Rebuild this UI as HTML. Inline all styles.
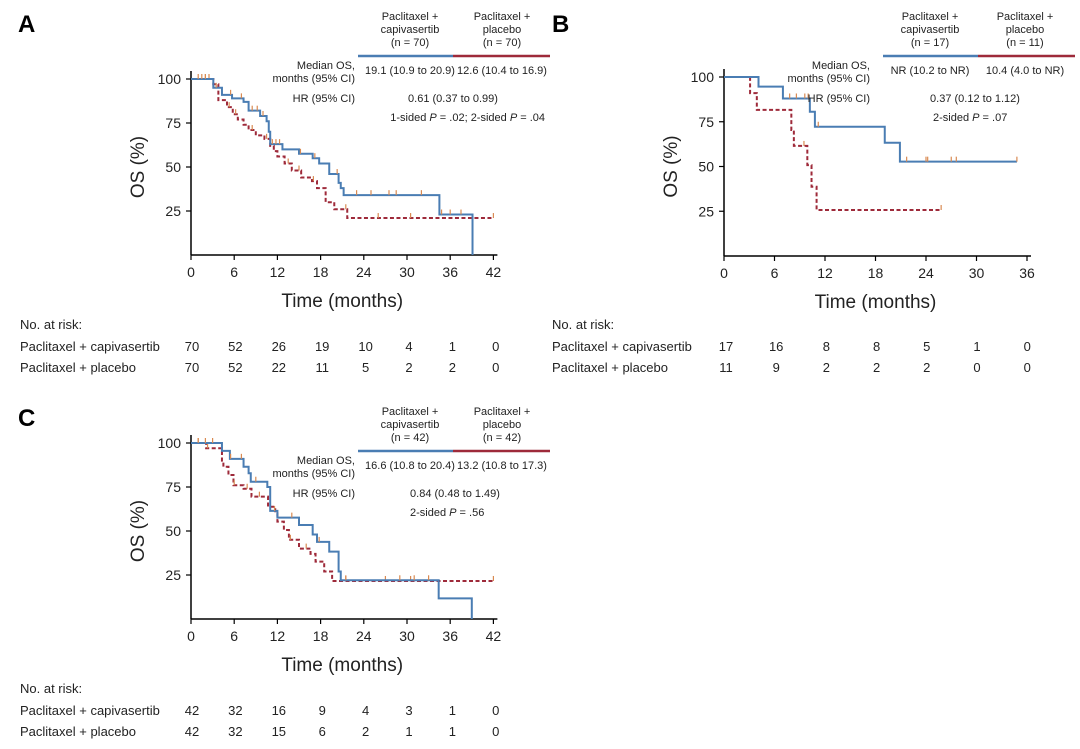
<!DOCTYPE html>
<html><head><meta charset="utf-8"><style>
body{margin:0;background:#fff;}
svg{display:block;font-family:"Liberation Sans",sans-serif;}
</style></head><body>
<svg id="fig" width="1080" height="749" viewBox="0 0 1080 749" xmlns="http://www.w3.org/2000/svg"></svg>
<script>
// ---- Data (time in months, OS %) ----
const ticksX42 = [0,6,12,18,24,30,36,42];
const ticksX36 = [0,6,12,18,24,30,36];
const ticksY = [25,50,75,100];

const aCapT = [0,3.1,4.3,5.7,7.3,8.0,9.6,10.5,10.8,11.0,12.7,15.0,16.9,17.8,19.2,20.5,20.8,21.2,34.5,39.1];
const aCapV = [100,95,91,89,87,82,79,76,70,63,60,57.5,55,52,46,41,38,34,23,0];
const aCapEnd = 39.1;
const aCapCens = [1,1.5,2,3.5,5.5,7,8.5,9.2,10,11.3,11.8,12.3,15.2,17.2,20.3,23,25,27.5,28.5,32,34.8,36,37.5];
const aPlaT = [0,3.1,3.8,5.0,5.8,6.5,7.3,8.0,9.0,10.2,11.0,11.5,12.0,13.0,14.0,15.3,16.8,17.5,18.7,19.9,21.7];
const aPlaV = [100,97,88,84,80,77,74,71,68,66,62,59,56,52,48,44,42,38,30,26,21];
const aPlaEnd = 42;
const aPlaCens = [2,2.5,5.3,6.2,8.5,10.5,13.5,15,17,21.5,26,30.5,42];
const aRiskCap = [70,52,26,19,10,4,1,0];
const aRiskPla = [70,52,22,11,5,2,2,0];

const bCapT = [0,4.1,7.0,10.2,10.8,19.1,20.9];
const bCapV = [100,94.6,88,80.6,72.2,63.3,52.7];
const bCapEnd = 34.8;
const bCapCens = [7.8,8.6,9.6,10.0,11.2,21.7,24.0,24.2,27.0,27.6,34.8];
const bPlaT = [0,3.1,3.9,8.0,8.3,9.9,10.4,11.0];
const bPlaV = [100,91,81.6,70.4,61.5,50.8,38.7,25.7];
const bPlaEnd = 25.9;
const bPlaCens = [9.5,25.8];
const bRiskCap = [17,16,8,8,5,1,0];
const bRiskPla = [11,9,2,2,2,0,0];

const cCapT = [0,4.3,5.4,7.3,8.0,8.3,10.6,11.0,12.0,15.0,16.9,17.5,19.2,20.5,20.8,34.4,39.0];
const cCapV = [100,95.5,91,86.5,82.8,78,75,61.4,57.6,53.4,48,43.8,38.3,27,22,11.7,0];
const cCapEnd = 39.0;
const cCapCens = [1,2,3,5.5,7,9,11.6,14,17.8,21.5,29,31,33];
const cPlaT = [0,2.1,4.3,4.5,5.2,5.9,7.3,8.4,10.7,11.7,12.0,12.9,13.6,15.0,16.6,17.3,18.5,19.6];
const cPlaV = [100,97,90,86.5,81.8,76,74,69.5,63.8,60,55.3,50.6,45,40,37,32.6,27,21.6];
const cPlaEnd = 42;
const cPlaCens = [1,2.3,6,7.8,9.5,11,13.8,16,21.5,27,30.5,42];
const cRiskCap = [42,32,16,9,4,3,1,0];
const cRiskPla = [42,32,15,6,2,1,1,0];

const BLUE = "#4a7db3", RED = "#9e2a3a", CENS = "#d98a52";
const svg = document.getElementById('fig');
const NS = "http://www.w3.org/2000/svg";
function el(tag, attrs, parent){ const e=document.createElementNS(NS,tag); for(const k in attrs) e.setAttribute(k,attrs[k]); (parent||svg).appendChild(e); return e; }
function txt(x,y,s,size,anchor,parent,extra){ const t=el('text',Object.assign({x:x,y:y,'font-size':size,'text-anchor':anchor||'start',fill:'#222'},extra||{}),parent); t.innerHTML=s; return t; }

function stepAt(T,V,t){ let v=V[0]; for(let i=0;i<T.length;i++){ if(T[i]<=t) v=V[i]; } return v; }

function panel(p){
  const g = el('g',{});
  
  
  const sx = t => p.x0 + t*(p.x1-p.x0)/p.xmax;
  const sy = v => p.y0 - v*(p.y0-p.y100)/100;
  // panel letter
  const L = txt(p.lx,p.ly,p.id.toUpperCase(),24,'start',g,{'font-weight':'bold',fill:'#000'});
  
  
  // axes
  el('line',{x1:p.x0,y1:p.y100-8,x2:p.x0,y2:p.y0,stroke:'#000','stroke-width':1.5},g);
  el('line',{x1:p.x0,y1:p.y0,x2:sx(p.xmax)+4,y2:p.y0,stroke:'#000','stroke-width':1.5},g);
  p.ticksX.forEach(t=>{
    el('line',{x1:sx(t),y1:p.y0,x2:sx(t),y2:p.y0+5,stroke:'#000','stroke-width':1.2},g);
    const tl = txt(sx(t),p.y0+22,t,14,'middle',g);
    
    
  });
  ticksY.forEach(v=>{
    el('line',{x1:p.x0-5,y1:sy(v),x2:p.x0,y2:sy(v),stroke:'#000','stroke-width':1.2},g);
    const tl = txt(p.x0-10,sy(v)+5,v,14,'end',g);
    
    
  });
  const xt = txt((p.x0+sx(p.xmax))/2,p.y0+52,'Time (months)',19,'middle',g);
  
  
  const yt = txt(0,0,'OS (%)',19,'middle',g,{transform:`translate(${p.x0-47},${(p.y0+p.y100)/2}) rotate(-90)`});
  
  
  // curves
  function curve(T,V,end,cens,color,dash,name){
    let d=`M${sx(T[0])},${sy(V[0])}`;
    for(let i=1;i<T.length;i++){ d+=` H${sx(T[i])} V${sy(V[i])}`; }
    if(end>T[T.length-1]) d+=` H${sx(end)}`;
    const path = el('path',{d:d,fill:'none',stroke:color,'stroke-width':2,'stroke-dasharray':dash||'none'},g);
    
    
    cens.forEach(t=>{
      const y=sy(stepAt(T,V,t));
      const c = el('line',{x1:sx(t),y1:y,x2:sx(t),y2:y-5,stroke:CENS,'stroke-width':1.2},g);
      
      
    });
  }
  curve(p.plaT,p.plaV,p.plaEnd,p.plaCens,RED,'4,2.5','placebo');
  curve(p.capT,p.capV,p.capEnd,p.capCens,BLUE,null,'capivasertib');
  // header
  const h=p.hdr;
  [['Paclitaxel +','capivasertib',p.nCap,h.c1],['Paclitaxel +','placebo',p.nPla,h.c2]].forEach((a,i)=>{
    const hg = el('g',{},g);
    
    
    txt(a[3],h.y,a[0],11,'middle',hg); txt(a[3],h.y+13,a[1],11,'middle',hg); txt(a[3],h.y+26,'(n = '+a[2]+')',11,'middle',hg);
  });
  const lb = el('line',{x1:h.l0,y1:h.y+36,x2:h.lm,y2:h.y+36,stroke:BLUE,'stroke-width':2.5},g);
   
  const lr = el('line',{x1:h.lm,y1:h.y+36,x2:h.l1,y2:h.y+36,stroke:RED,'stroke-width':2.5},g);
   
  txt(h.lab,h.y+49,'Median OS,',11,'end',g); txt(h.lab,h.y+62,'months (95% CI)',11,'end',g);
  txt(h.c1,h.y+54,p.medCap,11,'middle',g); txt(h.c2,h.y+54,p.medPla,11,'middle',g);
  txt(h.lab,h.y+82,'HR (95% CI)',11,'end',g);
  txt(h.hrx,h.y+82,p.hr,11,'middle',g);
  txt(h.px,h.y+101,p.pval,11,p.panchor,g);
  // risk table
  const rg = el('g',{},g);
   
  txt(p.rx,p.ry,'No. at risk:',13,'start',rg);
  txt(p.rx,p.ry+22,'Paclitaxel + capivasertib',13,'start',rg);
  txt(p.rx,p.ry+43,'Paclitaxel + placebo',13,'start',rg);
  p.riskCap.forEach((v,i)=>{ txt(p.r0+i*p.rs,p.ry+22,v,13,'middle',rg); });
  p.riskPla.forEach((v,i)=>{ txt(p.r0+i*p.rs,p.ry+43,v,13,'middle',rg); });
}

panel({id:'a',lx:18,ly:32,x0:191,x1:493.4,xmax:42,y0:255,y100:79,ticksX:ticksX42,
  capT:aCapT,capV:aCapV,capEnd:aCapEnd,capCens:aCapCens,plaT:aPlaT,plaV:aPlaV,plaEnd:aPlaEnd,plaCens:aPlaCens,
  nCap:70,nPla:70,medCap:'19.1 (10.9 to 20.9)',medPla:'12.6 (10.4 to 16.9)',hr:'0.61 (0.37 to 0.99)',
  pval:'1-sided <tspan font-style="italic">P</tspan> = .02; 2-sided <tspan font-style="italic">P</tspan> = .04',panchor:'end',
  hdr:{y:20,c1:410,c2:502,l0:358,lm:453,l1:550,lab:355,hrx:453,px:545},
  rx:20,ry:329,r0:192,rs:43.4,riskCap:aRiskCap,riskPla:aRiskPla});
panel({id:'b',lx:552,ly:32,x0:724,x1:1027,xmax:36,y0:256,y100:77,ticksX:ticksX36,
  capT:bCapT,capV:bCapV,capEnd:bCapEnd,capCens:bCapCens,plaT:bPlaT,plaV:bPlaV,plaEnd:bPlaEnd,plaCens:bPlaCens,
  nCap:17,nPla:11,medCap:'NR (10.2 to NR)',medPla:'10.4 (4.0 to NR)',hr:'0.37 (0.12 to 1.12)',
  pval:'2-sided <tspan font-style="italic">P</tspan> = .07',panchor:'start',
  hdr:{y:20,c1:930,c2:1025,l0:883,lm:978,l1:1075,lab:870,hrx:975,px:933},
  rx:552,ry:329,r0:726,rs:50.2,riskCap:bRiskCap,riskPla:bRiskPla});
panel({id:'c',lx:18,ly:426,x0:191,x1:493.4,xmax:42,y0:619,y100:443,ticksX:ticksX42,
  capT:cCapT,capV:cCapV,capEnd:cCapEnd,capCens:cCapCens,plaT:cPlaT,plaV:cPlaV,plaEnd:cPlaEnd,plaCens:cPlaCens,
  nCap:42,nPla:42,medCap:'16.6 (10.8 to 20.4)',medPla:'13.2 (10.8 to 17.3)',hr:'0.84 (0.48 to 1.49)',
  pval:'2-sided <tspan font-style="italic">P</tspan> = .56',panchor:'start',
  hdr:{y:415,c1:410,c2:502,l0:358,lm:453,l1:550,lab:355,hrx:455,px:410},
  rx:20,ry:693,r0:192,rs:43.4,riskCap:cRiskCap,riskPla:cRiskPla});
</script>
</body></html>
